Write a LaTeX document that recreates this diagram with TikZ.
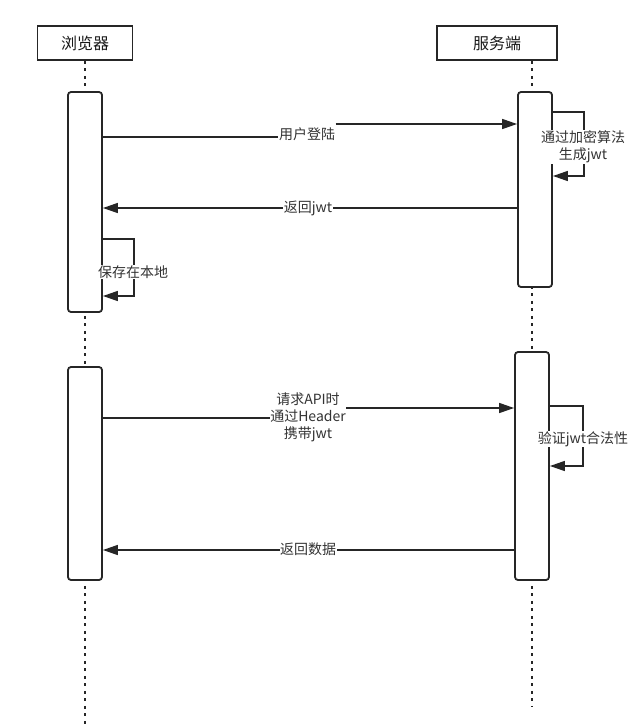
\documentclass[tikz,border=0pt]{standalone}
\usepackage{fontspec}
\newfontfamily\cjk{Noto Sans CJK SC}
\usetikzlibrary{arrows.meta}
\begin{document}
\begin{tikzpicture}[x=1pt,y=-1pt,
  head/.style={draw=black!85, line width=1.8pt, minimum height=34pt, inner sep=0pt, font=\cjk\fontsize{16}{19}\selectfont, text=black!90},
  act/.style={draw=black!85, line width=1.8pt, rounded corners=3pt, minimum width=34pt, inner sep=0pt, fill=white},
  life/.style={line width=2pt, dash pattern=on 3pt off 4.5pt, black!85},
  msg/.style={line width=1.5pt, black!85},
  arr/.style={msg, -{Triangle[length=15pt,width=10pt]}},
  lbl/.style={fill=white, inner sep=0.5pt, font=\cjk\fontsize{14}{17}\selectfont, text=black!80, align=center},
]
\useasboundingbox (0,0) rectangle (640,728);
% headers
\node[head, minimum width=95pt] (bh) at (85,43) {浏览器};
\node[head, minimum width=120pt] (sh) at (497,43) {服务端};
% lifelines
\coordinate (bend) at (85,725);
\coordinate (send) at (532,706);
\draw[life] (bh.south) -- (bend);
\draw[life] (sh.south -| send) -- (send);
% activations
\node[act, minimum height=220pt] (ba1) at (85,202) {};
\node[act, minimum height=195pt] (sa1) at (535,189.5) {};
\node[act, minimum height=213pt] (ba2) at (85,473.5) {};
\node[act, minimum height=228pt] (sa2) at (532,466) {};
% message 1
\node[lbl] (m1) at (307,134) {用户登陆};
\draw[msg] (ba1.east |- 0,137) -- (m1.west |- 0,137);
\draw[arr] (m1.east |- 0,124) -- (sa1.west |- 0,124);
% self loop server 1
\draw[arr] (sa1.east |- 0,112) -- (584,112) |- (sa1.east |- 0,176);
\node[lbl] (s1) at (583,147) {通过加密算法\\生成jwt};
% message 2
\draw[arr] (sa1.west |- 0,208) -- (ba1.east |- 0,208);
\node[lbl] (m2) at (308,208) {返回jwt};
% self loop browser
\draw[arr] (ba1.east |- 0,239) -- (134,239) |- (ba1.east |- 0,296);
\node[lbl] (b1) at (133,272) {保存在本地};
% message 3
\node[lbl] (m3) at (308,417) {请求API时\\通过Header\\携带jwt};
\draw[msg] (ba2.east |- 0,418) -- (m3.west |- 0,418);
\draw[arr] (m3.east |- 0,408) -- (sa2.west |- 0,408);
% self loop server 2
\draw[arr] (sa2.east |- 0,406) -- (583,406) |- (sa2.east |- 0,466);
\node[lbl] (s2) at (583,439) {验证jwt合法性};
% message 4
\draw[arr] (sa2.west |- 0,550) -- (ba2.east |- 0,550);
\node[lbl] (m4) at (308,549) {返回数据};
\end{tikzpicture}
\end{document}
